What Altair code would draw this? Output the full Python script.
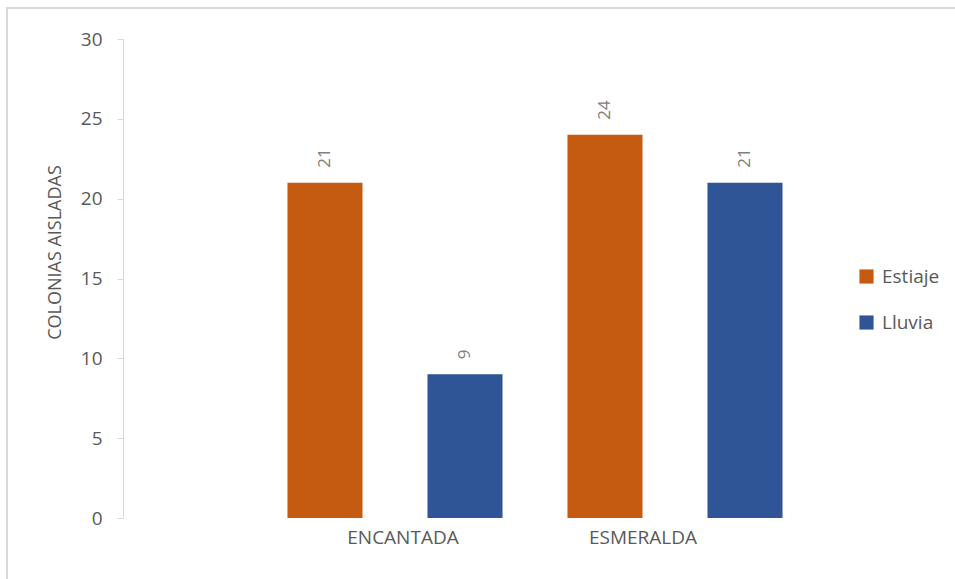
import altair as alt
import pandas as pd

categories = ["ENCANTADA", "ESMERALDA"]
series = ["Estiaje", "Lluvia"]
estiaje = [21, 24]
lluvia = [9, 21]
y_ticks = [0, 5, 10, 15, 20, 25, 30]
colors = ["#C55A11", "#2F5597"]

rows = []
for c, e, l in zip(categories, estiaje, lluvia):
    rows.append({"cat": c, "serie": "Estiaje", "val": e})
    rows.append({"cat": c, "serie": "Lluvia", "val": l})
df = pd.DataFrame(rows)

FONT = "Open Sans"
GRAY = "#595959"

x = alt.X(
    "cat:N",
    sort=categories,
    title=None,
    scale=alt.Scale(paddingInner=0, paddingOuter=0.2357, align=1),
    axis=alt.Axis(
        domain=False,
        ticks=False,
        labelAngle=0,
        labelFont=FONT,
        labelFontSize=19,
        labelColor=GRAY,
        labelPadding=10,
        labelOffset={"condition": {"test": "datum.value == 'ENCANTADA'", "value": 8}, "value": -32},
    ),
)
xoff = alt.XOffset(
    "serie:N",
    sort=series,
    scale=alt.Scale(paddingInner=0.464, paddingOuter=0.232),
)
y = alt.Y(
    "val:Q",
    title="COLONIAS AISLADAS",
    scale=alt.Scale(domain=[0, 30], nice=False),
    axis=alt.Axis(
        values=y_ticks,
        grid=False,
        domainColor="#d9d9d9",
        tickColor="#d9d9d9",
        tickSize=6,
        labelFont=FONT,
        labelFontSize=19,
        labelColor=GRAY,
        labelPadding=15,
        titleFont=FONT,
        titleFontSize=18,
        titleFontWeight="normal",
        titleColor=GRAY,
        titlePadding=16,
        titleY=213,
    ),
)

bars = alt.Chart(df).mark_bar().encode(
    x=x,
    xOffset=xoff,
    y=y,
    color=alt.Color(
        "serie:N",
        sort=series,
        scale=alt.Scale(domain=series, range=colors),
        legend=alt.Legend(
            title=None,
            orient="none",
            legendX=734,
            legendY=228,
            symbolType="square",
            symbolSize=200,
            symbolStrokeWidth=0,
            labelFont=FONT,
            labelFontSize=19,
            labelColor=GRAY,
            labelOffset=6,
            rowPadding=26,
        ),
    ),
)

labels = alt.Chart(df).mark_text(
    angle=270, align="left", baseline="middle", dx=15, fontSize=17, font=FONT, color="#808080"
).encode(x=x, xOffset=xoff, y="val:Q", text="val:Q")

border = alt.Chart(alt.Data(values=[{}])).mark_rect(
    filled=False, stroke="#d9d9d9", strokeWidth=2
).encode(
    x=alt.value(-116), x2=alt.value(900), y=alt.value(-31), y2=alt.value(600)
)

chart = alt.layer(border, bars, labels).properties(
    width=692,
    height=479,
    background="white",
    autosize=alt.AutoSizeParams(type="none"),
    padding={"left": 123, "top": 39, "right": 140, "bottom": 61},
).configure_view(stroke=None, strokeWidth=0)

chart.save("out.html", embed_options={"renderer": "svg", "actions": False})
